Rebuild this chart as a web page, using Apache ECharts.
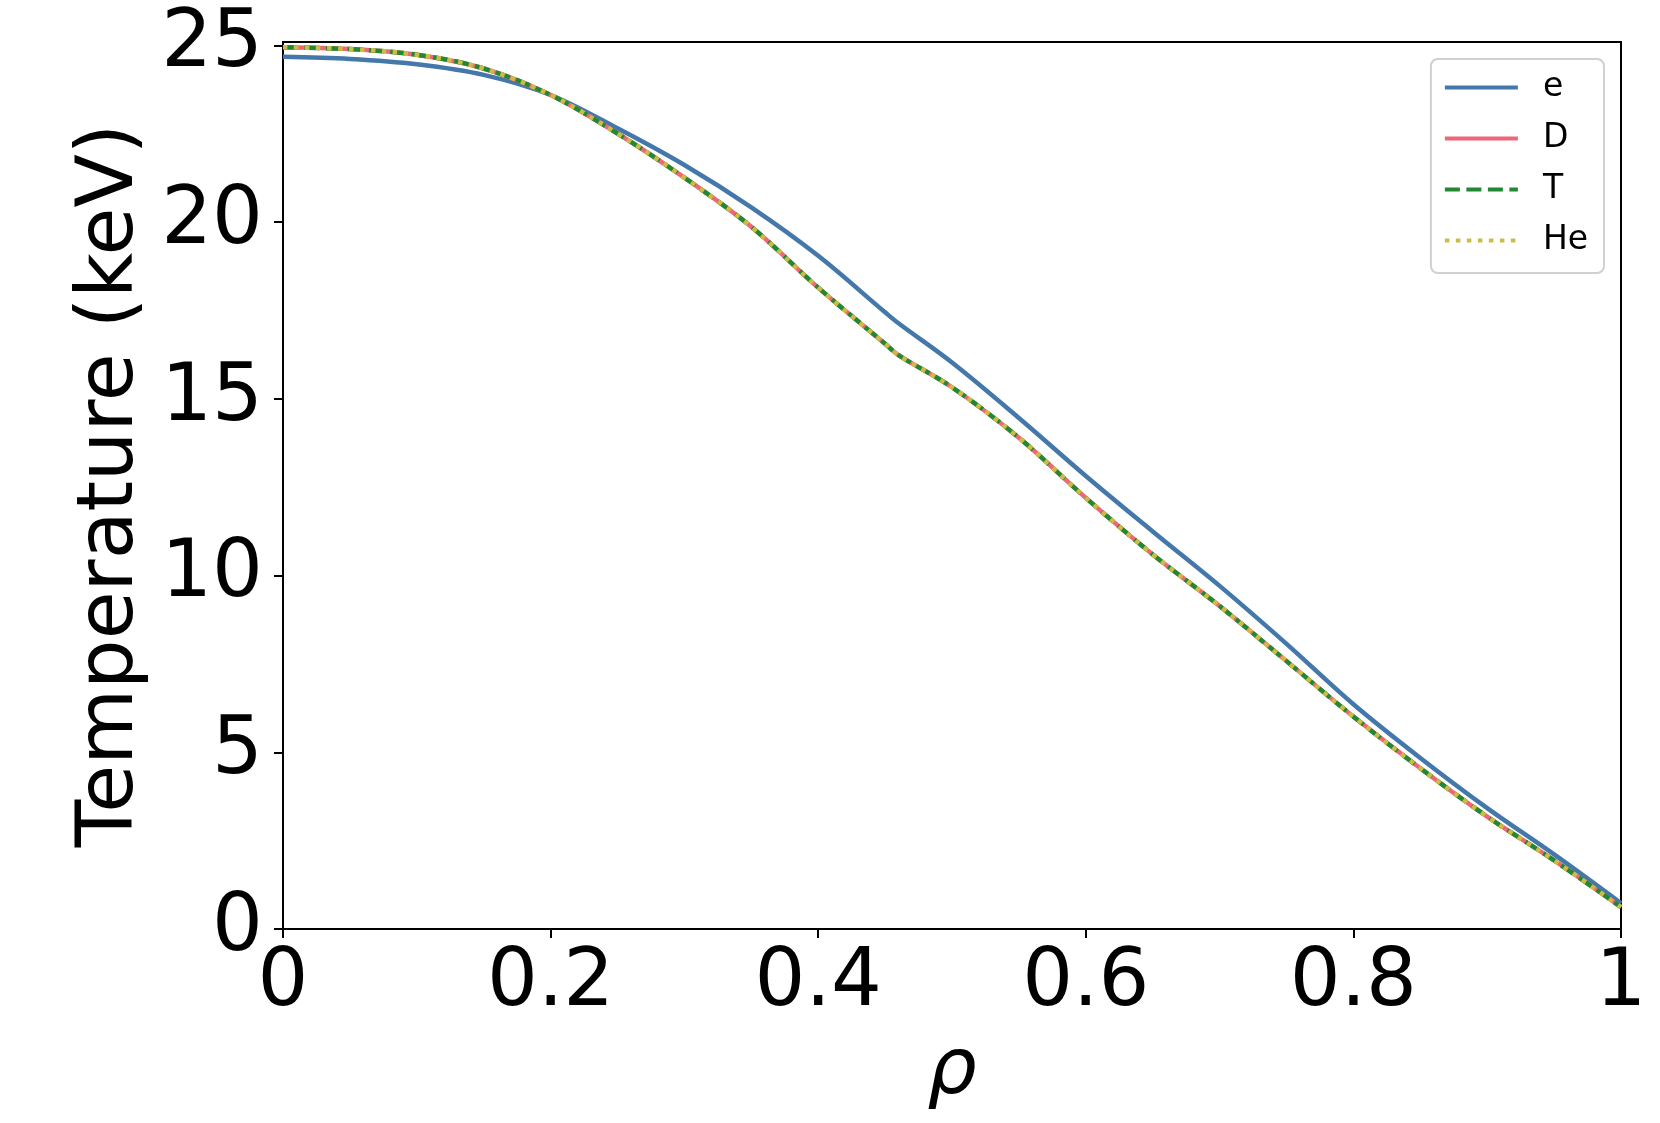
<!DOCTYPE html>
<html>
<head>
<meta charset="utf-8">
<title>Temperature profiles</title>
<script src="https://cdn.jsdelivr.net/npm/echarts@6/dist/echarts.min.js"></script>
<style>
  html, body { margin: 0; padding: 0; background: #fff; }
  #chart { width: 1660px; height: 1123px; }
</style>
</head>
<body>
<div id="chart"></div>
<script>
  // normalised radius
  var rho = [0, 0.05, 0.1, 0.15, 0.2, 0.25, 0.3, 0.35, 0.4, 0.45, 0.46, 0.5, 0.55, 0.6, 0.65, 0.7, 0.75, 0.8, 0.85, 0.9, 0.95, 1.0];
  // temperatures in keV
  var tempE  = [24.68, 24.62, 24.47, 24.17, 23.60, 22.66, 21.62, 20.42, 19.05, 17.45, 17.14, 16.03, 14.46, 12.82, 11.25, 9.71, 8.07, 6.36, 4.84, 3.42, 2.11, 0.73];
  var tempD  = [24.95, 24.90, 24.74, 24.35, 23.60, 22.51, 21.26, 19.87, 18.15, 16.56, 16.24, 15.33, 13.90, 12.20, 10.60, 9.14, 7.58, 6.01, 4.55, 3.18, 1.94, 0.62];
  var tempT  = [24.95, 24.90, 24.74, 24.35, 23.60, 22.51, 21.26, 19.87, 18.15, 16.56, 16.24, 15.33, 13.90, 12.20, 10.60, 9.14, 7.58, 6.01, 4.55, 3.18, 1.94, 0.62];
  var tempHe = [24.95, 24.90, 24.74, 24.35, 23.60, 22.51, 21.26, 19.87, 18.15, 16.56, 16.24, 15.33, 13.90, 12.20, 10.60, 9.14, 7.58, 6.01, 4.55, 3.18, 1.94, 0.62];
  var yTicks = [0, 5, 10, 15, 20, 25];

  function pairs(ys) {
    return rho.map(function (x, i) { return [x, ys[i]]; });
  }

  var font = 'DejaVu Sans';
  var chart = echarts.init(document.getElementById('chart'), null, { renderer: 'canvas' });

  function line(name, ys, color, type) {
    return {
      name: name,
      type: 'line',
      data: pairs(ys),
      symbol: 'none',
      smooth: 0.35,
      animation: false,
      lineStyle: { color: color, width: 4.5, type: type },
      itemStyle: { color: color }
    };
  }

  var option = {
    backgroundColor: '#fff',
    animation: false,
    grid: {
      left: 283, right: 39, top: 42, bottom: 194,
      show: true, borderColor: '#000', borderWidth: 2
    },
    legend: {
      right: 56, top: 59,
      orient: 'vertical',
      itemWidth: 73, itemHeight: 20, itemGap: 18,
      padding: [12, 16, 16, 12],
      backgroundColor: 'rgba(255,255,255,0.8)',
      borderColor: '#d0d0d0', borderWidth: 2, borderRadius: 7,
      itemStyle: { opacity: 0 },
      lineStyle: { width: 4 },
      textStyle: { fontFamily: font, fontSize: 33, color: '#000', padding: [0, 0, 0, 20] },
      data: ['e', 'D', 'T', 'He']
    },
    xAxis: {
      type: 'value', min: 0, max: 1, interval: 0.2,
      name: 'ρ', nameLocation: 'middle', nameGap: 105,
      nameTextStyle: { fontFamily: font, fontSize: 78, fontStyle: 'italic', color: '#000' },
      axisLine: { show: true, lineStyle: { color: '#000', width: 2 } },
      axisTick: { show: true, inside: false, length: 9, lineStyle: { color: '#000', width: 2 } },
      axisLabel: {
        fontFamily: font, fontSize: 80, color: '#000', margin: 15,
        formatter: function (v) { return (v === 0 || v === 1) ? String(v) : v.toFixed(1); }
      },
      splitLine: { show: false }
    },
    yAxis: {
      type: 'value', min: 0, max: 25.1,
      name: 'Temperature (keV)', nameLocation: 'middle', nameGap: 131,
      nameTextStyle: { fontFamily: font, fontSize: 78, color: '#000' },
      axisLine: { show: true, lineStyle: { color: '#000', width: 2 } },
      axisTick: { show: true, length: 9, customValues: yTicks, lineStyle: { color: '#000', width: 2 } },
      axisLabel: {
        fontFamily: font, fontSize: 80, color: '#000', margin: 20,
        customValues: yTicks
      },
      splitLine: { show: false }
    },
    series: [
      line('e', tempE, '#4477AA', 'solid'),
      line('D', tempD, '#EE6677', 'solid'),
      line('T', tempT, '#228833', [15, 6.5]),
      line('He', tempHe, '#CCBB44', [4.5, 6.5])
    ]
  };

  chart.setOption(option);
</script>
</body>
</html>
